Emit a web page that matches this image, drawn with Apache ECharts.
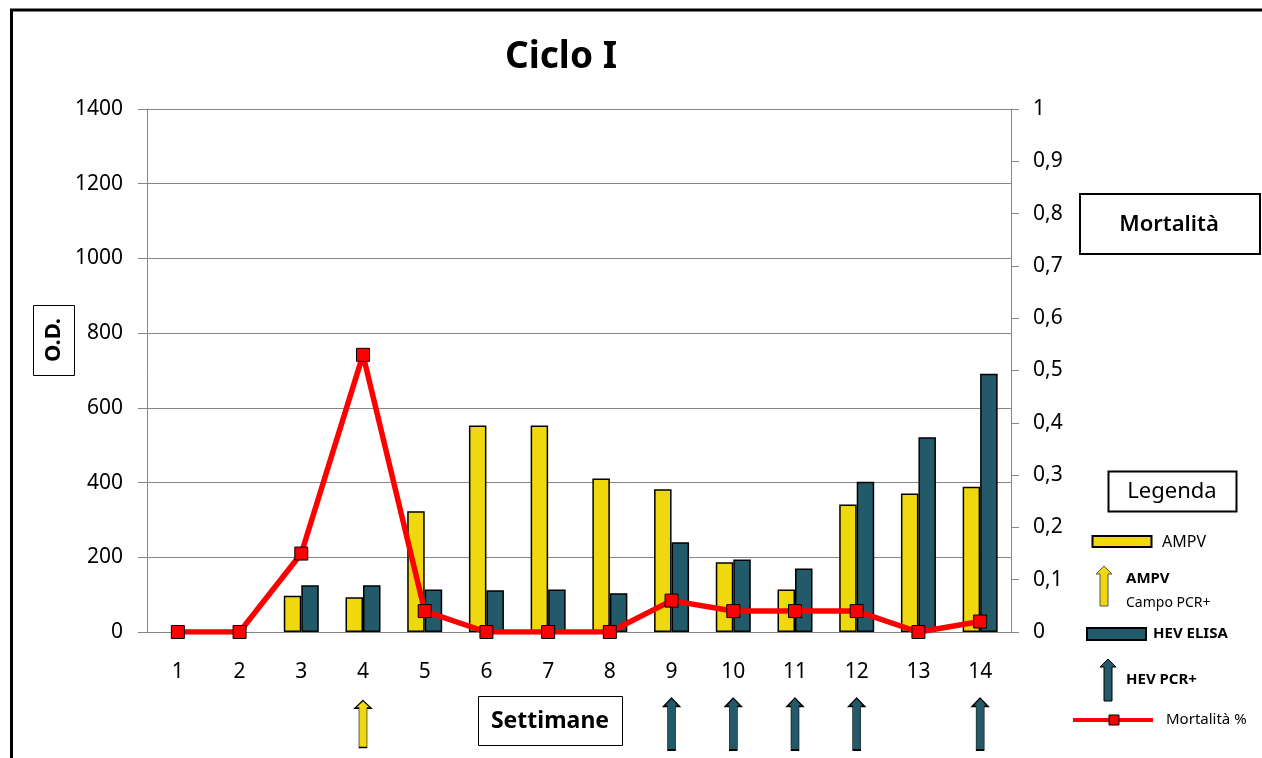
<!DOCTYPE html>
<html>
<head>
<meta charset="utf-8">
<script src="https://cdn.jsdelivr.net/npm/echarts@6/dist/echarts.min.js"></script>
<style>html,body{margin:0;padding:0;background:#fff}#c{width:1262px;height:758px}</style>
</head>
<body>
<div id="c"></div>
<script>
const weeks = ['1','2','3','4','5','6','7','8','9','10','11','12','13','14'];
const ampv = [null, null, 97, 93, 323, 553, 553, 411, 382, 187, 114, 341, 371, 389];
const hevElisa = [null, null, 125, 125, 114, 112, 114, 104, 240, 194, 170, 402, 521, 691];
const mortalita = [0, 0, 0.15, 0.53, 0.04, 0, 0, 0, 0.06, 0.04, 0.04, 0.04, 0, 0.02];
const ampvPcrWeeks = ['4'];
const hevPcrWeeks = ['9', '10', '11', '12', '14'];
const odTicks = [0, 200, 400, 600, 800, 1000, 1200, 1400];

const YEL = '#F0D80E', TEAL = '#235A69', RED = '#FF0000';
const FONT = 'Noto Sans';
const ARROW = 'path://M8,0 L16,8 L12,8 L12,50 L4,50 L4,8 L0,8 Z';

function arrowPts(x, y, h) {
  return [[x + 8, y], [x + 16, y + 8], [x + 12, y + 8], [x + 12, y + h], [x + 4, y + h], [x + 4, y + 8], [x, y + 8]];
}

const chart = echarts.init(document.getElementById('c'), null, {renderer: 'canvas'});
const G = {left: 147, right: 251};

chart.setOption({
  animation: false,
  textStyle: {fontFamily: FONT},
  grid: [
    {left: G.left, right: G.right, top: 109, bottom: 126},
    {left: G.left, right: G.right, top: 697, height: 54}
  ],
  xAxis: [
    {type: 'category', data: weeks, gridIndex: 0,
     axisLine: {lineStyle: {color: '#868686', width: 1}},
     axisTick: {show: false},
     axisLabel: {color: '#000', fontSize: 21, fontFamily: FONT, margin: 30}},
    {type: 'category', data: weeks, gridIndex: 1, show: false}
  ],
  yAxis: [
    {type: 'value', gridIndex: 0, min: odTicks[0], max: odTicks[odTicks.length - 1], interval: 200,
     axisLine: {show: true, lineStyle: {color: '#868686'}},
     axisTick: {show: true, inside: false, length: 9, lineStyle: {color: '#868686'}},
     splitLine: {show: true, lineStyle: {color: '#868686', width: 1}},
     axisLabel: {color: '#000', fontSize: 21, fontFamily: FONT, margin: 24, formatter: v => String(v)}},
    {type: 'value', gridIndex: 0, position: 'right', min: 0, max: 1, interval: 0.1,
     axisLine: {show: true, lineStyle: {color: '#868686'}},
     axisTick: {show: true, length: 8, lineStyle: {color: '#868686'}},
     splitLine: {show: false},
     axisLabel: {color: '#000', fontSize: 21, fontFamily: FONT, margin: 22,
       formatter: v => String(Math.round(v * 10) / 10).replace('.', ',')}},
    {type: 'value', gridIndex: 1, min: 0, max: 1, show: false}
  ],
  series: [
    {name: 'AMPV', type: 'bar', data: ampv, xAxisIndex: 0, yAxisIndex: 0,
     barWidth: 17.5, barGap: '0%',
     itemStyle: {color: YEL, borderColor: '#000', borderWidth: 1.5}},
    {name: 'HEV ELISA', type: 'bar', data: hevElisa, xAxisIndex: 0, yAxisIndex: 0,
     barWidth: 17.5, barGap: '0%',
     itemStyle: {color: TEAL, borderColor: '#000', borderWidth: 1.5}},
    {name: 'Mortalità %', type: 'line', data: mortalita, xAxisIndex: 0, yAxisIndex: 1,
     lineStyle: {color: RED, width: 5.5}, symbol: 'rect', symbolSize: 13,
     itemStyle: {color: RED, borderColor: '#000', borderWidth: 1}, z: 5},
    {name: 'AMPV Campo PCR+', type: 'scatter', xAxisIndex: 1, yAxisIndex: 2,
     data: ampvPcrWeeks.map(w => [w, 0.5]), symbol: ARROW, symbolSize: [16, 47],
     itemStyle: {color: YEL, borderColor: '#000', borderWidth: 1, opacity: 1}},
    {name: 'HEV PCR+', type: 'scatter', xAxisIndex: 1, yAxisIndex: 2,
     data: hevPcrWeeks.map(w => [w, 0.5]), symbol: ARROW, symbolSize: [16, 52],
     itemStyle: {color: TEAL, borderColor: '#000', borderWidth: 1, opacity: 1}}
  ],
  graphic: [
    {type: 'line', shape: {x1: 10, y1: 10, x2: 1262, y2: 10}, style: {stroke: '#000', lineWidth: 3}},
    {type: 'line', shape: {x1: 11.5, y1: 10, x2: 11.5, y2: 758}, style: {stroke: '#000', lineWidth: 3}},
    {type: 'text', x: 561, y: 57, style: {text: 'Ciclo I', font: 'bold 37px "Noto Sans"', fill: '#000', align: 'center', verticalAlign: 'middle'}},
    {type: 'rect', shape: {x: 33.5, y: 305.5, width: 41, height: 70}, style: {fill: '#fff', stroke: '#000', lineWidth: 1}},
    {type: 'text', x: 54, y: 340, rotation: Math.PI / 2, style: {text: 'O.D.', font: 'bold 22px "Noto Sans"', fill: '#000', align: 'center', verticalAlign: 'middle'}},
    {type: 'rect', shape: {x: 1080, y: 194, width: 180, height: 60}, style: {fill: '#fff', stroke: '#000', lineWidth: 2}},
    {type: 'text', x: 1169, y: 225, style: {text: 'Mortalità', font: '600 22px "Noto Sans"', fill: '#000', align: 'center', verticalAlign: 'middle'}},
    {type: 'rect', shape: {x: 478.5, y: 696.5, width: 144, height: 49}, style: {fill: '#fff', stroke: '#000', lineWidth: 1}},
    {type: 'text', x: 550, y: 721, style: {text: 'Settimane', font: 'bold 23px "Noto Sans"', fill: '#000', align: 'center', verticalAlign: 'middle'}},
    {type: 'rect', shape: {x: 1108.5, y: 471.5, width: 128, height: 40}, style: {fill: '#fff', stroke: '#000', lineWidth: 2}},
    {type: 'text', x: 1172, y: 492, style: {text: 'Legenda', font: '22px "Noto Sans"', fill: '#000', align: 'center', verticalAlign: 'middle'}},
    {type: 'rect', shape: {x: 1092.5, y: 536, width: 59, height: 11}, style: {fill: YEL, stroke: '#000', lineWidth: 2}},
    {type: 'text', x: 1162, y: 542, style: {text: 'AMPV', font: '16px "Noto Sans"', fill: '#000', verticalAlign: 'middle'}},
    {type: 'polygon', shape: {points: arrowPts(1096, 566, 40)}, style: {fill: YEL, stroke: '#555', lineWidth: 1}},
    {type: 'text', x: 1126, y: 579, style: {text: 'AMPV', font: 'bold 15px "Noto Sans"', fill: '#000', verticalAlign: 'middle'}},
    {type: 'text', x: 1126, y: 603, style: {text: 'Campo PCR+', font: '14px "Noto Sans"', fill: '#000', verticalAlign: 'middle'}},
    {type: 'rect', shape: {x: 1087, y: 628, width: 59, height: 12}, style: {fill: TEAL, stroke: '#000', lineWidth: 2}},
    {type: 'text', x: 1153, y: 634, style: {text: 'HEV ELISA', font: 'bold 15px "Noto Sans"', fill: '#000', verticalAlign: 'middle'}},
    {type: 'polygon', shape: {points: arrowPts(1100, 659, 42)}, style: {fill: TEAL, stroke: '#000', lineWidth: 1}},
    {type: 'text', x: 1126, y: 680, style: {text: 'HEV PCR+', font: 'bold 15px "Noto Sans"', fill: '#000', verticalAlign: 'middle'}},
    {type: 'line', shape: {x1: 1073, y1: 720, x2: 1153, y2: 720}, style: {stroke: RED, lineWidth: 4}},
    {type: 'rect', shape: {x: 1109, y: 715, width: 10, height: 10}, style: {fill: RED, stroke: '#000', lineWidth: 1}},
    {type: 'text', x: 1166, y: 720, style: {text: 'Mortalità %', font: '15px "Noto Sans"', fill: '#000', verticalAlign: 'middle'}}
  ]
});
</script>
</body>
</html>
